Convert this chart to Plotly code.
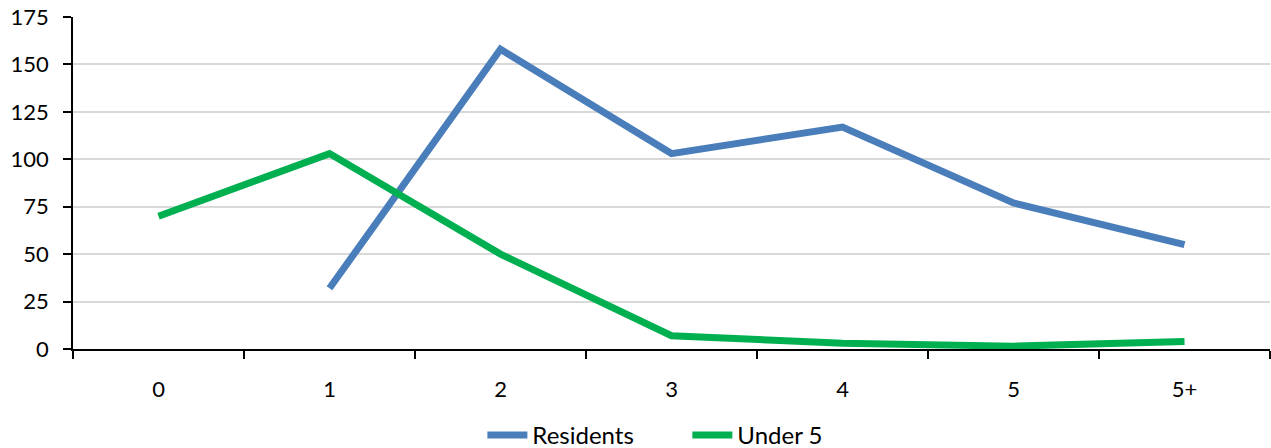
import plotly.graph_objects as go

categories = ["0", "1", "2", "3", "4", "5", "5+"]
residents = [None, 32, 158, 103, 117, 77, 55]
under5 = [70, 103, 50, 7, 3, 1.5, 4]

FONT = "Lato, Liberation Sans, sans-serif"

fig = go.Figure()
fig.add_trace(go.Scatter(x=categories, y=residents, name="Residents", mode="lines",
                         line=dict(color="#4a7ebb", width=7), connectgaps=False))
fig.add_trace(go.Scatter(x=categories, y=under5, name="Under 5", mode="lines",
                         line=dict(color="#00b050", width=7)))

fig.update_layout(
    width=1271, height=448,
    margin=dict(l=73, r=1, t=17, b=99, autoexpand=False),
    paper_bgcolor="white", plot_bgcolor="white",
    font=dict(family=FONT, size=22, color="#000000"),
    showlegend=True,
    legend=dict(orientation="h", x=0.342, xanchor="left", y=-0.26, yanchor="middle",
                font=dict(family=FONT, size=24, color="#000000"), tracegroupgap=0,
                entrywidth=150, itemwidth=40),
)
fig.update_xaxes(type="category", range=[-0.5, 6.5], tickson="boundaries",
                 ticks="outside", ticklen=8, tickwidth=1.5, tickcolor="black",
                 tickfont=dict(family=FONT, size=22, color="#000000"),
                 showline=True, linecolor="black", linewidth=1.5, automargin=False,
                 showgrid=False, zeroline=False, ticklabelstandoff=20)
fig.update_yaxes(range=[0, 175], dtick=25, tick0=0, automargin=False,
                 ticks="outside", ticklen=8, tickwidth=1.5, tickcolor="black",
                 tickfont=dict(family=FONT, size=22, color="#000000"),
                 ticklabelstandoff=10,
                 showline=True, linecolor="black", linewidth=1.5,
                 showgrid=True, gridcolor="#d9d9d9", gridwidth=1.5, zeroline=False)

fig.write_html("out.html", post_script="document.body.style.margin='0';",
               config={"displayModeBar": False})
